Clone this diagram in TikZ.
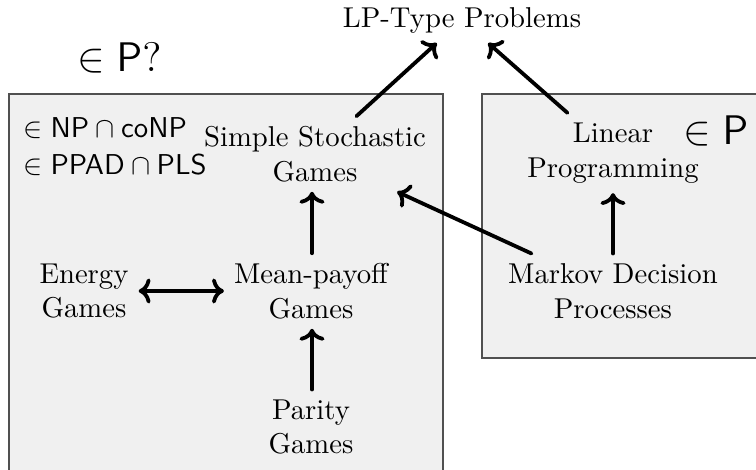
\documentclass[tikz,border=0pt]{standalone}
\usetikzlibrary{arrows.meta}
\definecolor{boxfill}{RGB}{240,240,240}
\definecolor{boxline}{RGB}{80,80,80}
\tikzset{
  lbl/.style={align=center, scale=2.87, font=\normalsize},
  cls/.style={anchor=base west, inner sep=0pt, scale=2.87},
  arr/.style={-{To[scale=1.2]}, line width=3.8pt, line cap=round},
  darr/.style={{To[scale=1.2]}-{To[scale=1.2]}, line width=3.8pt, line cap=round},
  region/.style={fill=boxfill, draw=boxline, line width=1.2pt},
}
\begin{document}
\begin{tikzpicture}[x=1pt,y=-1pt]
\clip (0,0) rectangle (756,470);
\fill[white] (0,0) rectangle (756,470);
\draw[region] (9,94) rectangle (443,490);
\draw[region] (482,94) rectangle (790,358);

\node[lbl] (lpt) at (462,20) {LP-Type Problems};
\node[lbl] (ssg) at (315,154) {Simple Stochastic\\Games};
\node[lbl] (lp) at (613,153) {Linear\\Programming};
\node[lbl] (eg) at (84,291) {Energy\\Games};
\node[lbl] (mp) at (311,291) {Mean-payoff\\Games};
\node[lbl] (mdp) at (613,291) {Markov Decision\\Processes};
\node[lbl] (pg) at (311,427) {Parity\\Games};

\node[cls] (inpq) at (77,72) {\Large $\in\mathsf{P}?$};
\node[cls] (inp) at (683,145) {\Large $\in\mathsf{P}$};
\node[cls] (np) at (23,138) {$\in\mathsf{NP}\cap\mathsf{coNP}$};
\node[cls] (ppad) at (23,175) {$\in\mathsf{PPAD}\cap\mathsf{PLS}$};

\coordinate (vx) at (312,0);
\draw[arr] (ssg) -- (lpt);
\draw[arr] (lp) -- (lpt);
\draw[arr] (vx |- mp.north) -- (vx |- ssg.south);
\draw[arr] (vx |- pg.north) -- (vx |- mp.south);
\draw[arr] (mdp.north) -- (lp.south);
\draw[arr] (mdp) -- (ssg);
\draw[darr] (eg) -- (mp);
\end{tikzpicture}
\end{document}
